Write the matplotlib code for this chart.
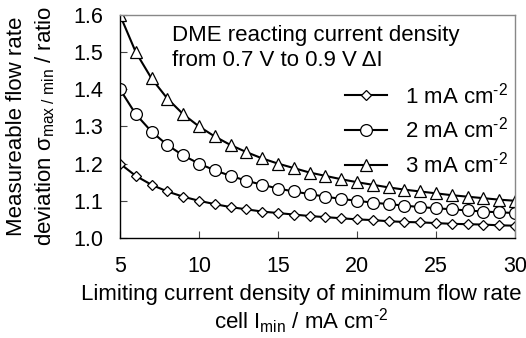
import matplotlib.pyplot as plt

plt.rcParams['font.family'] = ['Liberation Sans', 'DejaVu Sans']
plt.rcParams['mathtext.fontset'] = 'custom'
plt.rcParams['mathtext.rm'] = 'Liberation Sans'
plt.rcParams['mathtext.it'] = 'Liberation Sans:italic'
plt.rcParams['mathtext.default'] = 'regular'

# data
i_min = [5, 6, 7, 8, 9, 10, 11, 12, 13, 14, 15, 16, 17, 18, 19, 20,
         21, 22, 23, 24, 25, 26, 27, 28, 29, 30]
dev_1 = [1.200, 1.167, 1.143, 1.125, 1.111, 1.100, 1.091, 1.083, 1.077,
         1.071, 1.067, 1.063, 1.059, 1.056, 1.053, 1.050, 1.048, 1.045,
         1.043, 1.042, 1.040, 1.038, 1.037, 1.036, 1.034, 1.033]
dev_2 = [1.400, 1.333, 1.286, 1.250, 1.222, 1.200, 1.182, 1.167, 1.154,
         1.143, 1.133, 1.125, 1.118, 1.111, 1.105, 1.100, 1.095, 1.091,
         1.087, 1.083, 1.080, 1.077, 1.074, 1.071, 1.069, 1.067]
dev_3 = [1.600, 1.500, 1.429, 1.375, 1.333, 1.300, 1.273, 1.250, 1.231,
         1.214, 1.200, 1.188, 1.176, 1.167, 1.158, 1.150, 1.143, 1.136,
         1.130, 1.125, 1.120, 1.115, 1.111, 1.107, 1.103, 1.100]
labels = [r'1 mA cm$^{\text{-}2}$', r'2 mA cm$^{\text{-}2}$',
          r'3 mA cm$^{\text{-}2}$']
x_ticks = [5, 10, 15, 20, 25, 30]
y_ticks = [1.0, 1.1, 1.2, 1.3, 1.4, 1.5, 1.6]

fig = plt.figure(figsize=(5.26, 3.38), dpi=100)
ax = fig.add_axes([0.228, 0.296, 0.751, 0.660])

ax.plot(i_min, dev_1, color='black', lw=1.5, marker='D', ms=5.5,
        mfc='white', mec='black', mew=0.9, label=labels[0])
ax.plot(i_min, dev_2, color='black', lw=1.5, marker='o', ms=8.5,
        mfc='white', mec='black', mew=0.9, label=labels[1])
ax.plot(i_min, dev_3, color='black', lw=1.5, marker='^', ms=8.5,
        mfc='white', mec='black', mew=0.9, label=labels[2])

ax.set_xlim(5, 30)
ax.set_ylim(1.0, 1.6)
ax.set_xticks(x_ticks)
ax.set_yticks(y_ticks)
ax.set_yticklabels(['%.1f' % v for v in y_ticks])
ax.tick_params(direction='in', length=5, labelsize=15.5, color='#444444')
ax.tick_params(axis='x', pad=13)
ax.tick_params(axis='y', pad=12)
for s in ['top', 'right']:
    ax.spines[s].set_color('#888888')
for s in ax.spines.values():
    s.set_linewidth(1.0)

ax.set_xlabel('Limiting current density of minimum flow rate\n'
              r'cell I$_{min}$ / mA cm$^{\text{-}2}$', fontsize=16,
              linespacing=1.1, va='top')
ax.xaxis.set_label_coords(0.46, -0.205)
ax.set_ylabel('Measureable flow rate\n'
              r'deviation $\sigma_{max\ /\ min}$ / ratio', fontsize=16,
              linespacing=1.35)
ax.yaxis.set_label_coords(-0.16, 0.5)

fig.text(0.327, 0.925, 'DME reacting current density\nfrom 0.7 V to 0.9 V \u0394I',
         fontsize=16, va='top', ha='left', linespacing=1.25)
ax.legend(loc='upper left', bbox_to_anchor=(0.656, 0.757),
          bbox_transform=fig.transFigure, frameon=False, fontsize=16,
          handlelength=1.9, labelspacing=0.4, handletextpad=0.8,
          borderpad=0, borderaxespad=0)

fig.savefig('out.png', dpi=100)
